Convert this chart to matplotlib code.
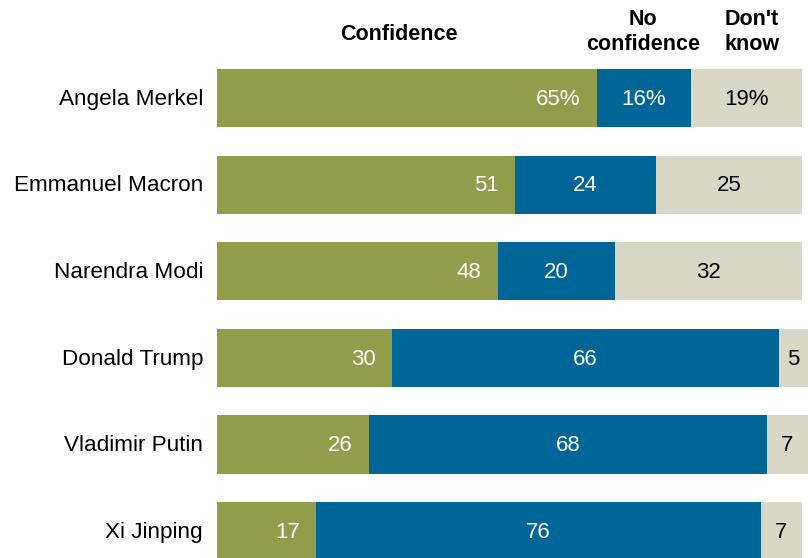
import matplotlib.pyplot as plt
import numpy as np

leaders = ['Angela Merkel', 'Emmanuel Macron', 'Narendra Modi',
           'Donald Trump', 'Vladimir Putin', 'Xi Jinping']
confidence = [65, 51, 48, 30, 26, 17]
no_confidence = [16, 24, 20, 66, 68, 76]
dont_know = [19, 25, 32, 5, 7, 7]

green = '#939c4a'
blue = '#006597'
beige = '#dad7c7'

plt.rcParams['font.family'] = ['Liberation Sans', 'DejaVu Sans']

fig = plt.figure(figsize=(8.08, 5.58), dpi=100)
ax = fig.add_axes([217 / 808, 0, 591 / 808, 1])

y = np.arange(len(leaders))
h = 0.67
conf = np.array(confidence)
noconf = np.array(no_confidence)
dk = np.array(dont_know)

ax.barh(y, conf, height=h, color=green)
ax.barh(y, noconf, left=conf, height=h, color=blue)
ax.barh(y, dk, left=conf + noconf, height=h, color=beige)

ax.set_xlim(0, 101.03)
ax.set_ylim(5.31, -1.13)
ax.axis('off')

fs = 16.2
nfs = 16
for i in range(len(leaders)):
    sfx = '%' if i == 0 else ''
    ax.annotate(f'{confidence[i]}{sfx}', (conf[i], y[i]), xytext=(-12, -1),
                textcoords='offset points', ha='right', va='center',
                color='white', fontsize=nfs)
    ax.annotate(f'{no_confidence[i]}{sfx}', (conf[i] + noconf[i] / 2, y[i]),
                xytext=(0, -1), textcoords='offset points',
                ha='center', va='center', color='white', fontsize=nfs)
    ax.annotate(f'{dont_know[i]}{sfx}', (conf[i] + noconf[i] + dk[i] / 2, y[i]),
                xytext=(0, -1), textcoords='offset points',
                ha='center', va='center', color='black', fontsize=nfs)
    ax.annotate(leaders[i], (0, y[i]), xytext=(-10, -1),
                textcoords='offset points', ha='right', va='center',
                fontsize=fs)

# column headers
hfs = 15.5
fig.text(399 / 808, 1 - 34 / 558, 'Confidence', ha='center', va='center',
         fontsize=hfs, fontweight='bold')
fig.text(643 / 808, 1 - 32 / 558, 'No\nconfidence', ha='center', va='center',
         fontsize=hfs, fontweight='bold', linespacing=1.3)
fig.text(752 / 808, 1 - 32 / 558, "Don't\nknow", ha='center', va='center',
         fontsize=hfs, fontweight='bold', linespacing=1.3)

fig.savefig('out.png', dpi=100)
